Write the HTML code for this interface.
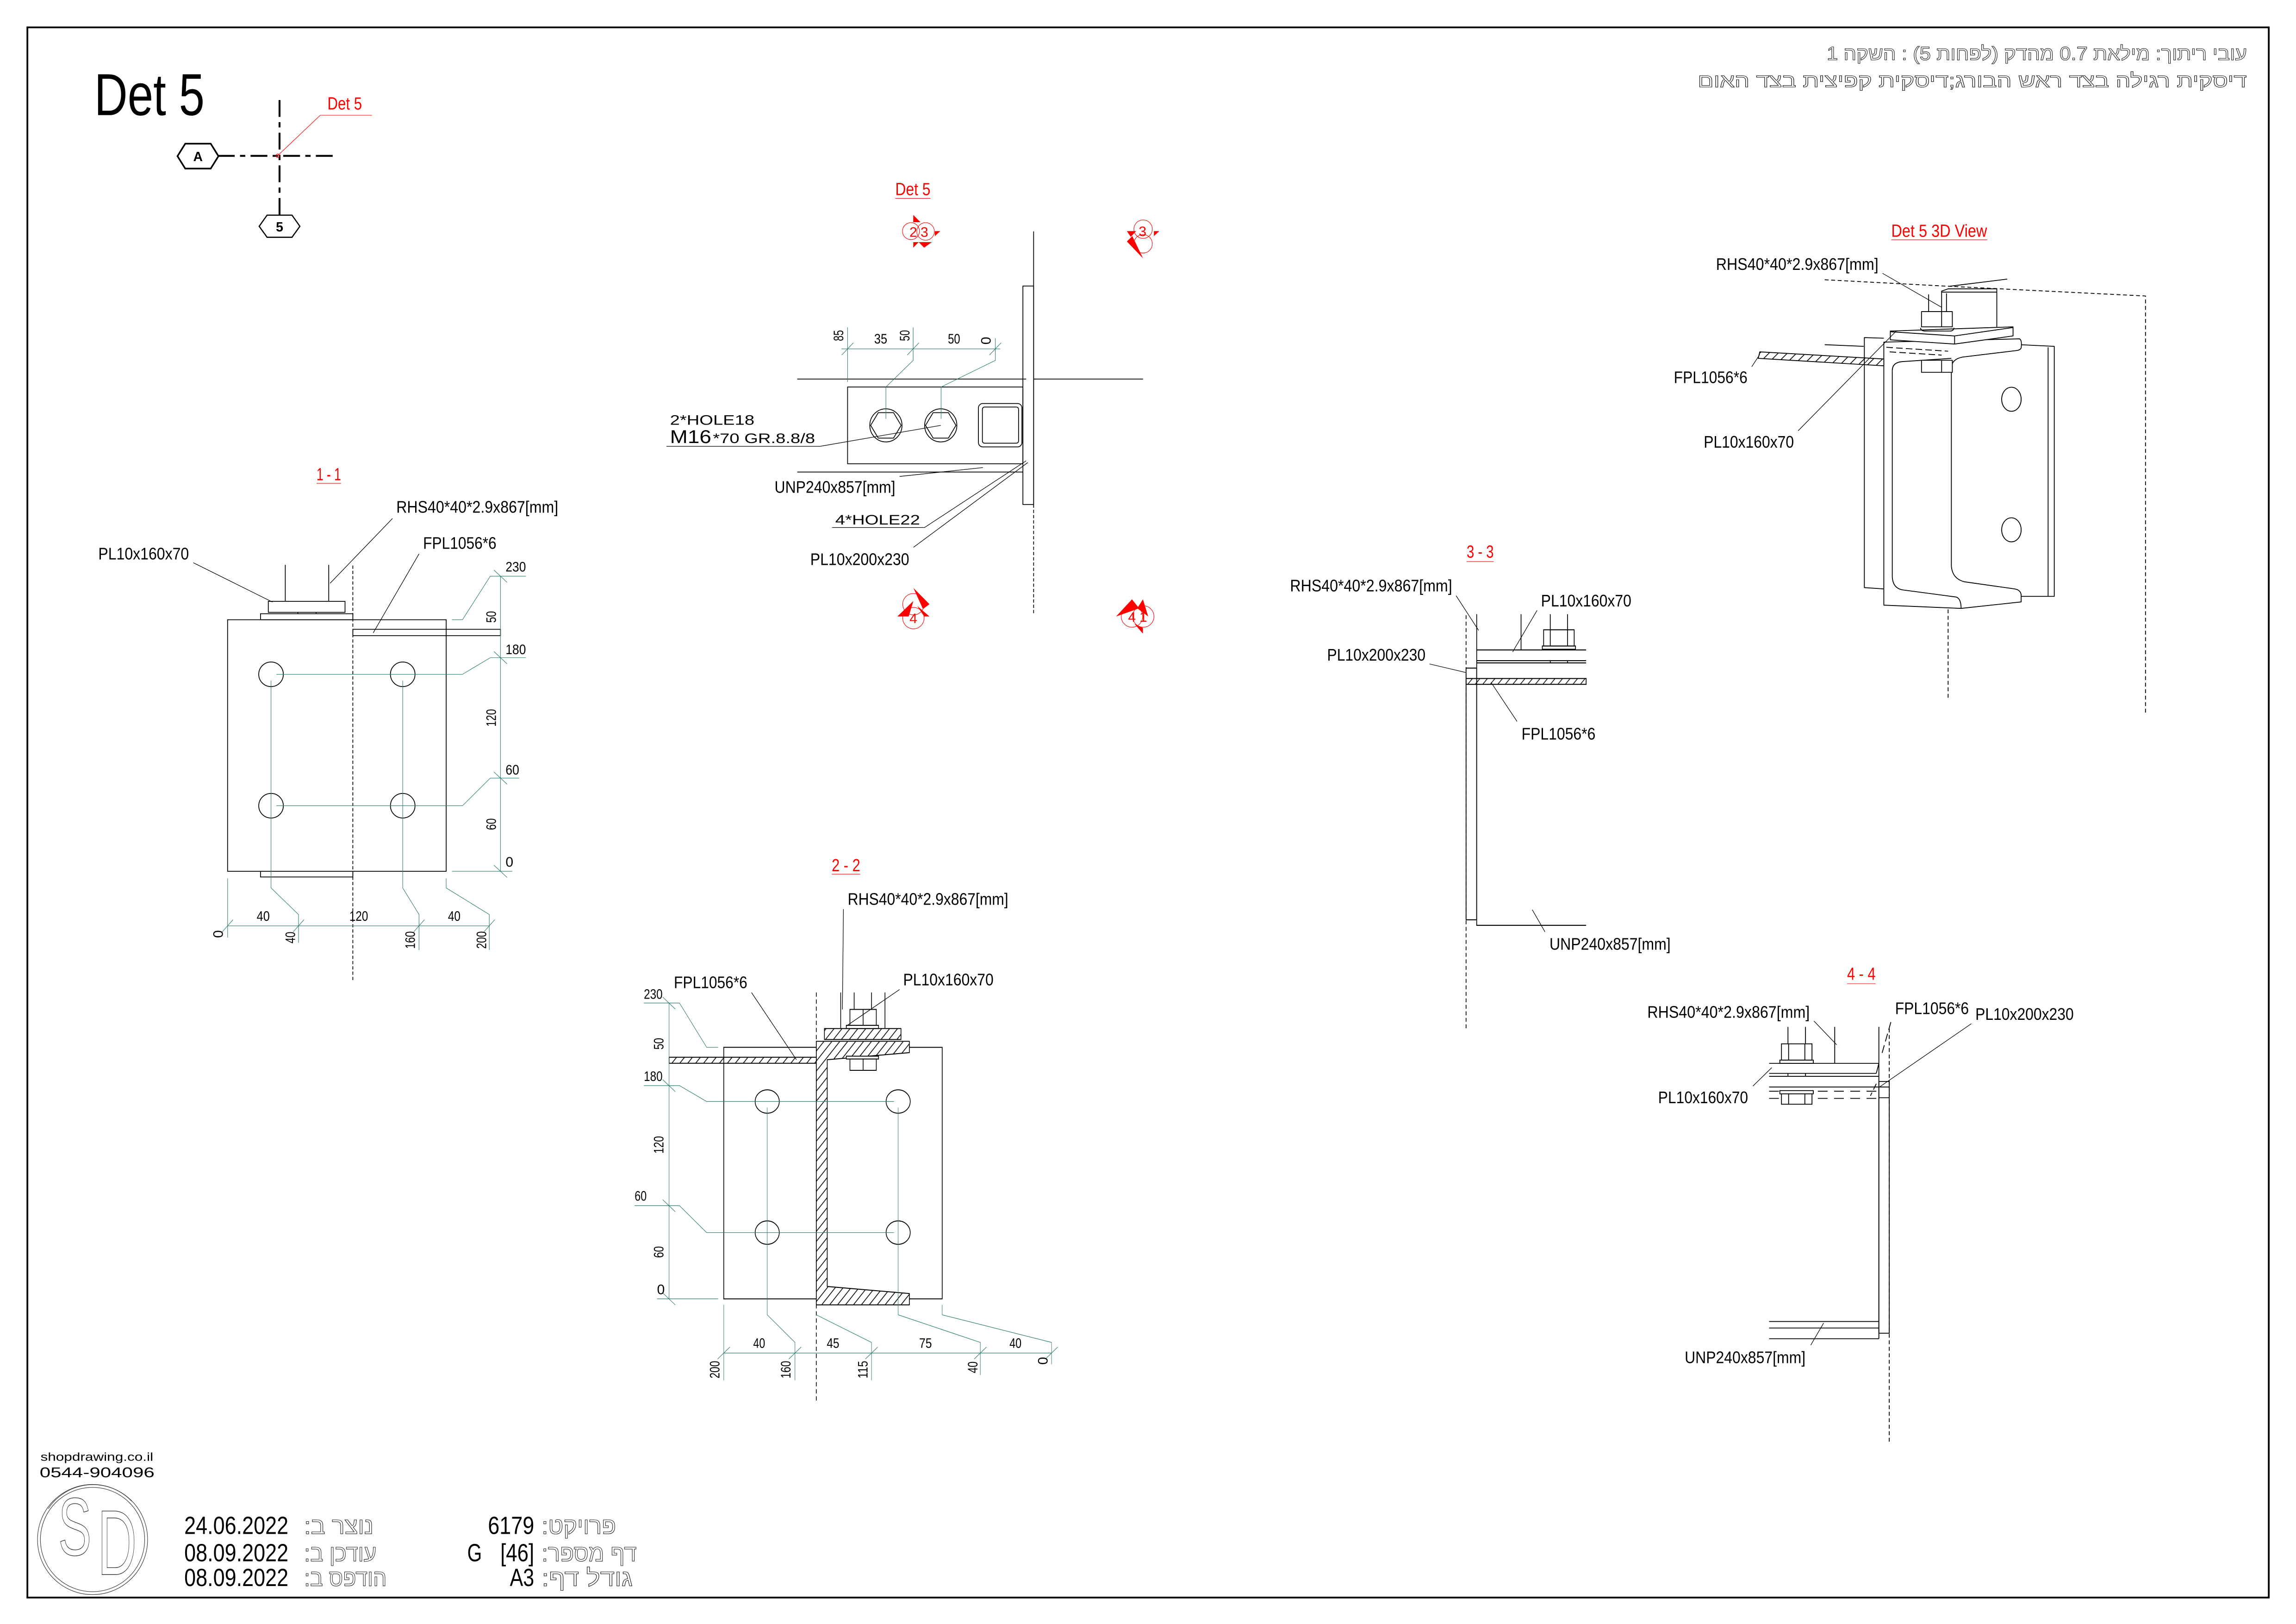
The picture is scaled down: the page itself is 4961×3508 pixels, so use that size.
<!DOCTYPE html>
<html><head><meta charset="utf-8"><style>
html,body{margin:0;padding:0;background:#fff}
svg{display:block}
text{font-family:"Liberation Sans",Arial,sans-serif}
.t{font-size:11.5px;fill:#000}
.d{font-size:9.5px;fill:#000}
.r{font-size:12px;fill:#f00}
.he{font-family:"Liberation Sans","DejaVu Sans",sans-serif;fill:none;stroke:#222;stroke-width:0.35}
</style></head><body>
<svg xmlns="http://www.w3.org/2000/svg" width="4961" height="3508" viewBox="0 0 1568 1108.76" preserveAspectRatio="none">
<defs>
<pattern id="hA" patternUnits="userSpaceOnUse" width="20" height="20" patternTransform="rotate(45)"><line x1="10" y1="-2" x2="10" y2="22" stroke="#000" stroke-width="2.4"/></pattern>
</defs>
<rect x="0" y="0" width="1568" height="1108.76" fill="#fff"/>

<!-- border -->
<rect x="18.7" y="18.7" width="1530.7" height="1072" fill="none" stroke="#000" stroke-width="1.2"/>

<!-- key plan -->
<g fill="none" stroke="#000">
<line x1="190.9" y1="68.3" x2="190.9" y2="146.9" stroke-width="1.3" stroke-dasharray="11.5 3.6 3.6 3.6"/>
<line x1="148.8" y1="106.4" x2="227.8" y2="106.4" stroke-width="1.3" stroke-dasharray="11.5 3.6 3.6 3.6"/>
<polygon points="121.2,106.6 126.5,98.1 143.9,98.1 149.2,106.6 143.9,115.1 126.5,115.1" stroke-width="1.1"/>
<polygon points="177,154.5 182.4,146.9 199.4,146.9 204.8,154.5 199.4,162 182.4,162" stroke-width="0.8"/>
</g>
<text x="135.2" y="110" font-size="9" font-weight="bold" text-anchor="middle">A</text>
<text x="190.9" y="158" font-size="9" font-weight="bold" text-anchor="middle">5</text>
<text x="64.4" y="78.6" font-size="40.5" textLength="75.3" lengthAdjust="spacingAndGlyphs">Det 5</text>
<text class="r" x="223.6" y="74.7" font-size="11.5" textLength="23.6" lengthAdjust="spacingAndGlyphs">Det 5</text>
<path d="M254,78.7 L218.7,78.7 L189.7,106.2" stroke="#f00" stroke-width="0.35" fill="none"/>
<circle cx="189.7" cy="106.3" r="1.2" stroke="#f00" stroke-width="0.4" fill="none"/>

<!-- hebrew title -->
<text class="he" x="1391" y="41" font-size="13" direction="rtl" text-anchor="middle" textLength="287" lengthAdjust="spacingAndGlyphs">עובי ריתוך: מילאת 0.7 מהדק (לפחות 5) : השקה 1</text>
<text class="he" x="1346.9" y="59.5" font-size="13" direction="rtl" text-anchor="middle" textLength="375" lengthAdjust="spacingAndGlyphs">דיסקית רגילה בצד ראש הבורג;דיסקית קפיצית בצד האום</text>

<!-- ===== Section 1-1 ===== -->
<g fill="none" stroke="#000" stroke-width="0.55">
<rect x="155.43" y="423.12" width="149.28" height="171.74"/>
<rect x="183.24" y="410.55" width="52.39" height="7.5"/>
<rect x="177.91" y="419.01" width="63.05" height="4.11"/>
<path d="M177.91,594.86 V598.73 H240.96 V594.86"/>
<path d="M194.83,385.63 V410.55 M224.5,385.63 V410.55 M203.4,418.05 V419.01 M215.9,418.05 V419.01"/>
<rect x="240.96" y="429.66" width="100.83" height="4.35"/>
<circle cx="185.1" cy="460.38" r="8.4"/>
<circle cx="275.03" cy="460.38" r="8.4"/>
<circle cx="185.1" cy="550.11" r="8.4"/>
<circle cx="275.03" cy="550.11" r="8.4"/>
</g>
<line x1="240.96" y1="386.12" x2="240.96" y2="669.12" stroke="#000" stroke-width="0.55" stroke-dasharray="2.2 1.4"/>
<g fill="none" stroke="#2f7d72" stroke-width="0.35">
<path d="M188.8,460.38 H315.83 L334.84,449.01 H359.18"/>
<path d="M188.8,550.11 H315.83 L334.84,531.24 H354.55"/>
<path d="M308.65,423.12 H315.83 L334.84,393.37 H359.18"/>
<path d="M308.65,594.86 H349.9"/>
<path d="M341.79,393.37 V594.86"/>
<path d="M337.3,389.17 L346.3,397.57 M337.3,444.81 L346.3,453.21 M337.3,527.04 L346.3,535.44 M337.3,590.66 L346.3,599.06"/>
<path d="M155.43,632.11 H334.14"/>
<path d="M151.73,636.3 L159.13,627.9 M200.17,636.3 L207.57,627.9 M282.47,636.3 L289.87,627.9 M330.44,636.3 L337.84,627.9"/>
<path d="M155.43,599.7 V640.09"/>
<path d="M185.1,464.73 V606.22 L203.87,624.37 V643.72"/>
<path d="M275.03,464.73 V606.22 L286.17,624.37 V648.56"/>
<path d="M304.71,599.7 V606.22 L334.14,624.37 V648.56"/>
</g>
<text class="d" x="345.27" y="390.2" textLength="13.9" lengthAdjust="spacingAndGlyphs">230</text>
<text class="d" x="345.27" y="446.6" textLength="13.9" lengthAdjust="spacingAndGlyphs">180</text>
<text class="d" x="345.27" y="528.8" textLength="9.3" lengthAdjust="spacingAndGlyphs">60</text>
<text class="d" x="345.27" y="591.7">0</text>
<text class="d" transform="translate(338.6,421.2) rotate(-90)" text-anchor="middle" textLength="8" lengthAdjust="spacingAndGlyphs">50</text>
<text class="d" transform="translate(338.6,490.1) rotate(-90)" text-anchor="middle" textLength="12" lengthAdjust="spacingAndGlyphs">120</text>
<text class="d" transform="translate(338.6,562.7) rotate(-90)" text-anchor="middle" textLength="8" lengthAdjust="spacingAndGlyphs">60</text>
<text class="d" x="175.3" y="628.7" textLength="8.9" lengthAdjust="spacingAndGlyphs">40</text>
<text class="d" x="238.6" y="628.7" textLength="12.8" lengthAdjust="spacingAndGlyphs">120</text>
<text class="d" x="305.9" y="628.7" textLength="8.6" lengthAdjust="spacingAndGlyphs">40</text>
<text class="d" transform="translate(152.2,637.7) rotate(-90)" text-anchor="middle">0</text>
<text class="d" transform="translate(201.5,640.1) rotate(-90)" text-anchor="middle" textLength="8" lengthAdjust="spacingAndGlyphs">40</text>
<text class="d" transform="translate(283.3,641.8) rotate(-90)" text-anchor="middle" textLength="12" lengthAdjust="spacingAndGlyphs">160</text>
<text class="d" transform="translate(332,641.8) rotate(-90)" text-anchor="middle" textLength="12" lengthAdjust="spacingAndGlyphs">200</text>
<text class="t" x="67.12" y="382" textLength="61.9" lengthAdjust="spacingAndGlyphs">PL10x160x70</text>
<text class="t" x="270.63" y="350" textLength="110.6" lengthAdjust="spacingAndGlyphs">RHS40*40*2.9x867[mm]</text>
<text class="t" x="288.94" y="374.75" textLength="50.1" lengthAdjust="spacingAndGlyphs">FPL1056*6</text>
<g fill="none" stroke="#000" stroke-width="0.4">
<path d="M132.02,384.18 L186.03,411.03"/>
<path d="M268.08,353.95 L225.43,398.21"/>
<path d="M286.17,378.13 L254.87,432.08"/>
</g>
<text class="r" x="216.2" y="328" textLength="16.7" lengthAdjust="spacingAndGlyphs">1 - 1</text>
<path d="M216.2,330 H232.9" stroke="#f00" stroke-width="0.35"/>

<!-- ===== Det 5 plan ===== -->
<g fill="none" stroke="#000" stroke-width="0.55">
<path d="M705.88,157.99 V344.43"/>
<rect x="698.57" y="195.27" width="7.31" height="149.16"/>
<path d="M544.47,258.77 H700.78 M705.88,258.77 H780.6"/>
<rect x="578.84" y="264.21" width="119.73" height="52.41"/>
<path d="M544.47,322.26 H698.57"/>
<ellipse cx="605" cy="290.42" rx="11" ry="11.3"/>
<ellipse cx="642.47" cy="290.42" rx="11" ry="11.3"/>
<polygon points="594.6,290.42 599.8,281.72 610.2,281.72 615.4,290.42 610.2,299.12 599.8,299.12"/>
<polygon points="632.07,290.42 637.27,281.72 647.67,281.72 652.87,290.42 647.67,299.12 637.27,299.12"/>
<rect x="668.19" y="275.5" width="29.71" height="29.63" rx="3"/>
<rect x="670.9" y="277.9" width="24.7" height="24.7" rx="1.5"/>
</g>
<line x1="705.88" y1="344.43" x2="705.88" y2="419.01" stroke="#000" stroke-width="0.55" stroke-dasharray="2.2 1.4"/>
<g fill="none" stroke="#2f7d72" stroke-width="0.35">
<path d="M578.84,223.5 V260.79"/>
<path d="M574.62,238.21 H683.05"/>
<path d="M574.84,242.4 L582.84,234 M619.62,242.4 L627.62,234 M675.72,242.4 L683.72,234"/>
<path d="M623.62,223.5 V246.07 L605,264.21 V285.98"/>
<path d="M679.72,230.95 V246.07 L642.69,264.21 V285.98"/>
</g>
<text class="d" transform="translate(575.8,229.1) rotate(-90)" text-anchor="middle" textLength="7.5" lengthAdjust="spacingAndGlyphs">85</text>
<text class="d" x="597.02" y="234.58" textLength="8.9" lengthAdjust="spacingAndGlyphs">35</text>
<text class="d" transform="translate(621,229.1) rotate(-90)" text-anchor="middle" textLength="7.5" lengthAdjust="spacingAndGlyphs">50</text>
<text class="d" x="647.35" y="234.58" textLength="8.4" lengthAdjust="spacingAndGlyphs">50</text>
<text class="d" transform="translate(676.5,232.6) rotate(-90)" text-anchor="middle">0</text>
<text x="457.56" y="290.01" font-size="9.3" textLength="57.65" lengthAdjust="spacingAndGlyphs">2*HOLE18</text>
<text x="457.56" y="302.51" font-size="12.5" textLength="28.2" lengthAdjust="spacingAndGlyphs">M16</text>
<text x="486.82" y="302.51" font-size="9.3" textLength="69.8" lengthAdjust="spacingAndGlyphs">*70 GR.8.8/8</text>
<text class="t" x="528.95" y="336.5" textLength="82.5" lengthAdjust="spacingAndGlyphs">UNP240x857[mm]</text>
<text x="570.41" y="358.14" font-size="9.3" textLength="57.9" lengthAdjust="spacingAndGlyphs">4*HOLE22</text>
<text class="t" x="553.34" y="385.75" textLength="67.6" lengthAdjust="spacingAndGlyphs">PL10x200x230</text>
<g fill="none" stroke="#000" stroke-width="0.4">
<path d="M455.12,304.73 H559.99 L642.47,290.42"/>
<path d="M614.31,325.29 L671.29,319.24"/>
<path d="M568.19,360.16 H631.39 L700.78,314.6"/>
<path d="M623.85,373.66 L701.89,315.81"/>
</g>
<text class="r" x="611.43" y="133.2" textLength="24" lengthAdjust="spacingAndGlyphs">Det 5</text>
<path d="M611.43,135.41 H635.4" stroke="#f00" stroke-width="0.35"/>

<!-- section markers -->
<g fill="none" stroke="#f00" stroke-width="0.35">
<circle cx="622.11" cy="157.81" r="5.8"/>
<circle cx="632.11" cy="158.02" r="6"/>
<circle cx="780.65" cy="156.44" r="6.3"/>
<circle cx="780.65" cy="166.45" r="6.3"/>
<circle cx="623.79" cy="412.5" r="7.3"/>
<circle cx="623.79" cy="422" r="7.3"/>
<circle cx="773.05" cy="420.9" r="7.3"/>
<circle cx="780.79" cy="420.9" r="7.3"/>
</g>
<g fill="#f00">
<polygon points="623.69,146.75 628.64,151.7 623.69,151.7"/>
<polygon points="638.44,157.81 642.12,157.81 638.44,161.18"/>
<polygon points="623.7,169.1 623.7,165.3 627.4,165.3"/>
<polygon points="631.1,169.1 627.4,165.3 636.4,165.3"/>
<polygon points="769.59,157.81 775.91,157.81 772.23,161.71"/>
<polygon points="788.03,157.81 791.72,157.81 788.03,161.18"/>
<polygon points="769.59,164.87 773.3,161.2 780.65,176.46"/>
<polygon points="623.79,401.4 634.76,412.5 630.3,415.8"/>
<polygon points="612.83,420.9 623.79,410.3 620.57,420.9"/>
<polygon points="634.76,420.9 626.37,413.6 631.15,420.9"/>
<polygon points="762.21,420.9 773.05,409.2 777.95,415.3"/>
<polygon points="776.66,415.3 780.53,409.2 784.14,420.9"/>
<polygon points="774.72,425.9 780.53,432.6 780.53,428.7"/>
</g>
<g fill="#f00" font-size="9.5" text-anchor="middle">
<text x="623.7" y="161.7">2</text>
<text x="631.3" y="161.7">3</text>
<text x="780.3" y="161.2">3</text>
<text x="623.79" y="425.5">4</text>
<text x="773.05" y="424.5">4</text>
<text x="780.79" y="424.5">1</text>
</g>

<!-- ===== 3D view ===== -->
<g transform="translate(1122,142.22) scale(0.22172)" fill="none" stroke="#000" stroke-width="2.6" stroke-linejoin="round">
<path d="M560,220 L940,240 L1548,270 L1548,1560" stroke-dasharray="12 8"/>
<path d="M940,1235 V1515" stroke-dasharray="12 8"/>
<path d="M945,240 L1122,218"/>
<path d="M742,400 L682,398 V1168 L742,1172"/>
<path d="M1163,420 L1267,425 V1195 H1165"/>
<path d="M1248,428 V1195"/>
<path d="M742,412 L1160,402 Q1168,406 1165,430 Q1162,437 1150,438 L985,458 Q952,464 950,490 V1100 Q952,1140 990,1150 L1145,1172 Q1163,1175 1165,1190 V1212 L980,1232 L742,1222 Z" fill="#fff"/>
<path d="M768,500 Q768,474 800,472 L950,462"/>
<path d="M768,500 V1135 Q770,1170 800,1175 L965,1197 Q980,1202 980,1232"/>
<ellipse cx="1135" cy="588" rx="30" ry="37"/>
<ellipse cx="1135" cy="990" rx="30" ry="37"/>
<polygon points="360,442 742,464 742,485 355,462" fill="url(#hA)"/>
<path d="M560,420 L680,425"/>
<path d="M750,428 L940,440 M760,442 L920,452" stroke-dasharray="20 10"/>
<polygon points="762,378 1140,365 1140,393 960,418 762,405" fill="#fff"/>
<path d="M762,380 L960,393 L1140,367 M960,393 V418"/>
<path d="M920,365 V255 L940,248 H1090 V365" fill="#fff"/>
<path d="M920,258 H1090 M935,262 V365"/>
<path d="M880,265 V318"/>
<rect x="858" y="318" width="95" height="47" fill="#fff"/>
<path d="M920,318 V365"/>
<path d="M855,368 Q856,378 870,378 H945 Q957,378 958,368"/>
<rect x="858" y="468" width="95" height="37" fill="#fff"/>
<path d="M920,468 V505"/>
</g>
<text class="r" x="1291.6" y="161.7" textLength="65.4" lengthAdjust="spacingAndGlyphs">Det 5 3D View</text>
<path d="M1291.6,163.7 H1357.2" stroke="#f00" stroke-width="0.35"/>
<text class="t" x="1171.9" y="184.35" textLength="110.9" lengthAdjust="spacingAndGlyphs">RHS40*40*2.9x867[mm]</text>
<text class="t" x="1143.1" y="261.5" textLength="50.3" lengthAdjust="spacingAndGlyphs">FPL1056*6</text>
<text class="t" x="1163.5" y="305.6" textLength="61.6" lengthAdjust="spacingAndGlyphs">PL10x160x70</text>
<g fill="none" stroke="#000" stroke-width="0.4">
<path d="M1285.6,186.6 L1326,209.8"/>
<path d="M1196.3,250.4 L1201.8,242"/>
<path d="M1228,294.1 L1295,226"/>
</g>

<!-- ===== Section 3-3 ===== -->
<g transform="translate(869.15,363.46) scale(0.18141,0.22172)" fill="none" stroke="#000" stroke-width="3">
<path d="M728,255 V1530" stroke-dasharray="12 8"/>
<rect x="728" y="418" width="40" height="775"/>
<path d="M768,252 V1210 H1180 M768,362 H1180 M768,395 H1180 M768,402 H1180"/>
<rect x="728" y="450" width="452" height="18" fill="url(#hA)"/>
<path d="M935,252 V362 M1045,252 V300 M1110,252 V300 M1045,395 V402 M1110,395 V402"/>
<rect x="1020" y="300" width="115" height="50"/>
<path d="M1045,300 V350 M1110,300 V350"/>
<rect x="1015" y="350" width="125" height="10"/>
</g>
<text class="r" x="1001.6" y="380.75" textLength="18.5" lengthAdjust="spacingAndGlyphs">3 - 3</text>
<path d="M1001.6,383.4 H1020.1" stroke="#f00" stroke-width="0.35"/>
<text class="t" x="881" y="403.8" textLength="110.7" lengthAdjust="spacingAndGlyphs">RHS40*40*2.9x867[mm]</text>
<text class="t" x="1052.4" y="414" textLength="61.7" lengthAdjust="spacingAndGlyphs">PL10x160x70</text>
<text class="t" x="906.3" y="451" textLength="67.2" lengthAdjust="spacingAndGlyphs">PL10x200x230</text>
<text class="t" x="1039.1" y="504.9" textLength="50.5" lengthAdjust="spacingAndGlyphs">FPL1056*6</text>
<text class="t" x="1058.2" y="648.4" textLength="82.7" lengthAdjust="spacingAndGlyphs">UNP240x857[mm]</text>
<g fill="none" stroke="#000" stroke-width="0.4">
<path d="M994.4,406.7 L1009.8,430.4"/>
<path d="M1049.7,416.7 L1033,445.1"/>
<path d="M976.2,453.3 L1001.3,459.2"/>
<path d="M1036,492.5 L1018.3,465.9"/>
<path d="M1055.1,636.2 L1046.4,621.1"/>
</g>

<!-- ===== Section 2-2 ===== -->
<g transform="translate(426.68,578.38) scale(0.19149,0.24188)" fill="none" stroke="#000" stroke-width="2.6">
<rect x="353" y="565" width="330" height="710"/>
<path d="M1015,565 H1132 V1275 H1015"/>
<rect x="158" y="593" width="525" height="17" fill="url(#hA)"/>
<polygon points="683,548 1015,548 1015,580 722,600 722,1240 1015,1260 1015,1292 683,1292" fill="url(#hA)"/>
<rect x="712" y="512" width="273" height="31" fill="url(#hA)"/>
<path d="M770,410 V512 M928,410 V512 M818,410 V458 M880,410 V458"/>
<rect x="803" y="458" width="94" height="45" fill="#fff"/>
<path d="M850,458 V503"/>
<rect x="790" y="503" width="115" height="9" fill="#fff"/>
<rect x="790" y="590" width="115" height="8" fill="#fff"/>
<rect x="803" y="598" width="94" height="32" fill="#fff"/>
<path d="M850,598 V630"/>
<ellipse cx="508" cy="718" rx="43" ry="33"/>
<ellipse cx="975" cy="718" rx="43" ry="33"/>
<ellipse cx="508" cy="1088" rx="43" ry="33"/>
<ellipse cx="975" cy="1088" rx="43" ry="33"/>
<path d="M683,410 V1568" stroke-dasharray="12 8"/>
</g>
<g transform="translate(426.68,578.38) scale(0.19149,0.24188)" fill="none" stroke="#2f7d72" stroke-width="1.6">
<path d="M158,440 V1275"/>
<path d="M68,440 H195 L292,565 H333"/>
<path d="M68,673 H195 L292,718 H960"/>
<path d="M35,1012 H195 L292,1088 H960"/>
<path d="M115,1275 H333"/>
<path d="M135,423 L180,457 M135,656 L180,690 M135,995 L180,1029 M135,1258 L180,1292"/>
<path d="M353,1428 H1522"/>
<path d="M331,1445 L375,1411 M585,1445 L629,1411 M858,1445 L902,1411 M1246,1445 L1290,1411 M1500,1445 L1544,1411"/>
<path d="M353,1292 V1505"/>
<path d="M508,735 V1320 L607,1398 V1505"/>
<path d="M683,1320 L880,1398 V1505"/>
<path d="M975,735 V1320 L1268,1398 V1490"/>
<path d="M1132,1292 V1320 L1522,1398 V1460"/>
</g>
<text class="r" x="568" y="594.8" textLength="19.5" lengthAdjust="spacingAndGlyphs">2 - 2</text>
<path d="M568,596.8 H587.5" stroke="#f00" stroke-width="0.35"/>
<text class="t" x="578.9" y="617.8" textLength="109.7" lengthAdjust="spacingAndGlyphs">RHS40*40*2.9x867[mm]</text>
<text class="t" x="460.2" y="674.6" textLength="50.2" lengthAdjust="spacingAndGlyphs">FPL1056*6</text>
<text class="t" x="616.8" y="672.7" textLength="61.7" lengthAdjust="spacingAndGlyphs">PL10x160x70</text>
<g fill="none" stroke="#000" stroke-width="0.4">
<path d="M576,620.7 L575.3,689.2"/>
<path d="M513.2,677.6 L543.9,723.5"/>
<path d="M614.3,675.6 L578,700.5"/>
</g>
<text class="d" x="439.7" y="681.9" textLength="12.8" lengthAdjust="spacingAndGlyphs">230</text>
<text class="d" x="439.7" y="738" textLength="12.8" lengthAdjust="spacingAndGlyphs">180</text>
<text class="d" x="433.4" y="819.8" textLength="8.2" lengthAdjust="spacingAndGlyphs">60</text>
<text class="d" x="448.7" y="883.6">0</text>
<text class="d" transform="translate(453.1,712.6) rotate(-90)" text-anchor="middle" textLength="8" lengthAdjust="spacingAndGlyphs">50</text>
<text class="d" transform="translate(453.1,781.6) rotate(-90)" text-anchor="middle" textLength="12" lengthAdjust="spacingAndGlyphs">120</text>
<text class="d" transform="translate(453.1,854.8) rotate(-90)" text-anchor="middle" textLength="8" lengthAdjust="spacingAndGlyphs">60</text>
<text class="d" x="514.4" y="920.2" textLength="8.1" lengthAdjust="spacingAndGlyphs">40</text>
<text class="d" x="564.6" y="920.2" textLength="8.6" lengthAdjust="spacingAndGlyphs">45</text>
<text class="d" x="627.7" y="920.2" textLength="8.7" lengthAdjust="spacingAndGlyphs">75</text>
<text class="d" x="689.4" y="920.2" textLength="8.2" lengthAdjust="spacingAndGlyphs">40</text>
<text class="d" transform="translate(491.4,935.1) rotate(-90)" text-anchor="middle" textLength="12" lengthAdjust="spacingAndGlyphs">200</text>
<text class="d" transform="translate(539.8,935.1) rotate(-90)" text-anchor="middle" textLength="12" lengthAdjust="spacingAndGlyphs">160</text>
<text class="d" transform="translate(592.5,935.1) rotate(-90)" text-anchor="middle" textLength="12" lengthAdjust="spacingAndGlyphs">115</text>
<text class="d" transform="translate(667.5,933.5) rotate(-90)" text-anchor="middle" textLength="8" lengthAdjust="spacingAndGlyphs">40</text>
<text class="d" transform="translate(715.4,929.1) rotate(-90)" text-anchor="middle">0</text>

<!-- ===== Section 4-4 ===== -->
<g transform="translate(1106.2,647.92) scale(0.22172)" fill="none" stroke="#000" stroke-width="2.6">
<path d="M830,245 V1520" stroke-dasharray="12 8"/>
<path d="M835,225 L808,320" stroke-dasharray="25 12"/>
<path d="M790,383 L798,352"/>
<path d="M790,415 L772,452" stroke-dasharray="20 10"/>
<rect x="798" y="408" width="32" height="775"/>
<path d="M798,425 H830 M798,458 H830"/>
<path d="M798,240 V1200"/>
<path d="M460,352 H798 M460,383 H790 M460,392 H798 M460,425 H798 M460,1147 H798 M460,1167 H798 M460,1200 H798"/>
<path d="M460,438 H798 M460,460 H798" stroke-dasharray="30 20"/>
<path d="M518,240 V292 M572,240 V292 M662,240 V352 M518,383 V392 M572,383 V392"/>
<rect x="498" y="292" width="94" height="50"/>
<path d="M520,292 V342 M570,292 V342"/>
<rect x="493" y="342" width="103" height="10"/>
<rect x="493" y="436" width="103" height="10" fill="#fff"/>
<rect x="498" y="446" width="94" height="32" fill="#fff"/>
<path d="M520,446 V478 M570,446 V478"/>
</g>
<text class="r" x="1261.4" y="669" textLength="19.5" lengthAdjust="spacingAndGlyphs">4 - 4</text>
<path d="M1261.4,671.6 H1280.9" stroke="#f00" stroke-width="0.35"/>
<text class="t" x="1125" y="694.9" textLength="110.9" lengthAdjust="spacingAndGlyphs">RHS40*40*2.9x867[mm]</text>
<text class="t" x="1294.2" y="692.3" textLength="50.4" lengthAdjust="spacingAndGlyphs">FPL1056*6</text>
<text class="t" x="1349" y="696.3" textLength="67.2" lengthAdjust="spacingAndGlyphs">PL10x200x230</text>
<text class="t" x="1132.4" y="753.2" textLength="61.4" lengthAdjust="spacingAndGlyphs">PL10x160x70</text>
<text class="t" x="1150.5" y="930.6" textLength="82.5" lengthAdjust="spacingAndGlyphs">UNP240x857[mm]</text>
<g fill="none" stroke="#000" stroke-width="0.4">
<path d="M1238.8,697.1 L1254.3,713.3"/>
<path d="M1346.3,698.9 L1283.6,742.1"/>
<path d="M1197.1,741.5 L1210,728.9"/>
<path d="M1236.6,918.4 L1245.4,903.3"/>
</g>

<!-- ===== title block ===== -->
<text x="27.65" y="997.4" font-size="8" textLength="77" lengthAdjust="spacingAndGlyphs">shopdrawing.co.il</text>
<text x="27.1" y="1008.5" font-size="9.6" textLength="78.4" lengthAdjust="spacingAndGlyphs">0544-904096</text>
<g fill="none" stroke="#333" stroke-width="0.35">
<circle cx="63.2" cy="1051.1" r="37.6"/>
<circle cx="63.2" cy="1051.1" r="35.6"/>
<path d="M33,1030 A36.6,36.6 0 0 1 90,1025"/>
</g>
<text x="39.8" y="1061.7" font-family="Liberation Serif,serif" font-size="56" textLength="22.6" lengthAdjust="spacingAndGlyphs" fill="#fff" stroke="#222" stroke-width="0.4">S</text>
<text x="66.6" y="1075" font-family="Liberation Serif,serif" font-size="63" textLength="26.8" lengthAdjust="spacingAndGlyphs" fill="#fff" stroke="#222" stroke-width="0.4">D</text>
<g font-size="17">
<text x="125.85" y="1047.3" textLength="71.1" lengthAdjust="spacingAndGlyphs">24.06.2022</text>
<text x="125.85" y="1065.9" textLength="71.1" lengthAdjust="spacingAndGlyphs">08.09.2022</text>
<text x="125.85" y="1082.9" textLength="71.1" lengthAdjust="spacingAndGlyphs">08.09.2022</text>
<text x="333.2" y="1047.3" textLength="31.6" lengthAdjust="spacingAndGlyphs">6179</text>
<text x="319.1" y="1065.9" textLength="10" lengthAdjust="spacingAndGlyphs">G</text>
<text x="341.7" y="1065.9" textLength="23.1" lengthAdjust="spacingAndGlyphs">[46]</text>
<text x="348.2" y="1082.9" textLength="16.6" lengthAdjust="spacingAndGlyphs">A3</text>
</g>
<g font-size="16">
<text class="he" x="231.4" y="1047.3" direction="rtl" text-anchor="middle" textLength="47.4" lengthAdjust="spacingAndGlyphs">נוצר ב:</text>
<text class="he" x="232.4" y="1065.9" direction="rtl" text-anchor="middle" textLength="49.4" lengthAdjust="spacingAndGlyphs">עודכן ב:</text>
<text class="he" x="235.9" y="1082.9" direction="rtl" text-anchor="middle" textLength="56.4" lengthAdjust="spacingAndGlyphs">הודפס ב:</text>
<text class="he" x="395.3" y="1047.3" direction="rtl" text-anchor="middle" textLength="50.8" lengthAdjust="spacingAndGlyphs">פרויקט:</text>
<text class="he" x="402.35" y="1065.9" direction="rtl" text-anchor="middle" textLength="64.9" lengthAdjust="spacingAndGlyphs">דף מספר:</text>
<text class="he" x="400.95" y="1082.9" direction="rtl" text-anchor="middle" textLength="62.1" lengthAdjust="spacingAndGlyphs">גודל דף:</text>
</g>
</svg>
</body></html>
